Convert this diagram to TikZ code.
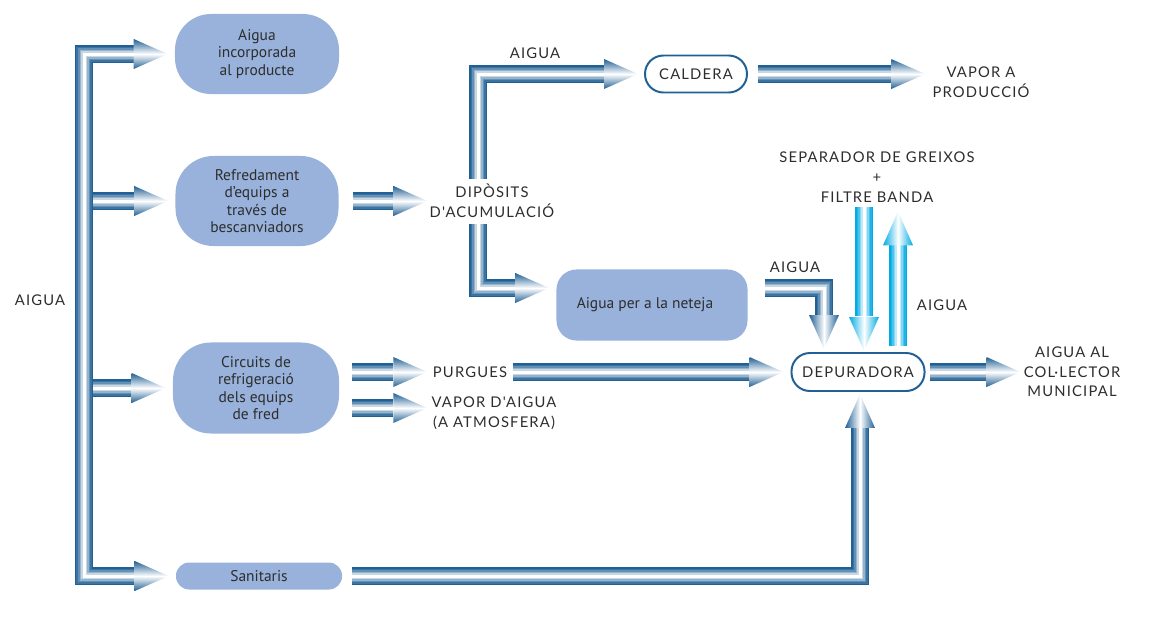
\documentclass[tikz,border=0pt]{standalone}
\usepackage{fontspec}
\setmainfont{PT Sans}
\newfontfamily\capsfont[LetterSpace=8]{Lato}
\usepackage{tikz}
\usetikzlibrary{positioning, calc}
\definecolor{PipeColor}{RGB}{32,96,148}
\definecolor{CyanColor}{RGB}{0,170,228}
\definecolor{BoxColor}{RGB}{152,178,220}
\definecolor{TextColor}{RGB}{45,45,45}
\newcommand{\headR}[2][PipeColor]{\shade[top color=#1, bottom color=#1, middle color=white] #2 ++(-34,-15) -- #2 -- ++(-34,15) -- cycle;}
\newcommand{\headD}[2][PipeColor]{\shade[left color=#1, right color=#1, middle color=white] #2 ++(-15,-34) -- #2 -- ++(15,-34) -- cycle;}
\newcommand{\headU}[2][PipeColor]{\shade[left color=#1, right color=#1, middle color=white] #2 ++(-15,34) -- #2 -- ++(15,34) -- cycle;}

\begin{document}
\begin{tikzpicture}[x=0.025cm, y=-0.025cm,
        box/.style={fill=BoxColor, rounded corners=#1, align=center, text=TextColor, inner sep=0pt, font=\fontsize{11}{12.5}\selectfont},
        unit/.style={draw=PipeColor, line width=1.4pt, fill=white, rounded corners=0.46cm, text=TextColor, inner sep=0pt, font=\capsfont\fontsize{10.5}{14}\selectfont},
        lab/.style={align=center, text=TextColor, inner sep=0pt, font=\capsfont\fontsize{10.5}{14}\selectfont},
        pipe/.style={draw=#1, line width=0.45cm,
            postaction={draw=#1!88!white, line width=0.375cm},
            postaction={draw=#1!70!white, line width=0.3cm},
            postaction={draw=#1!48!white, line width=0.225cm},
            postaction={draw=#1!25!white, line width=0.15cm},
            postaction={draw=white, line width=0.075cm}},
        pipe/.default=PipeColor,
        cpipe/.style={pipe=CyanColor}
    ]
        \useasboundingbox (0,0) rectangle (1154,619);

        \node[box=0.9cm, minimum width=4.1cm, minimum height=2cm] (inc) at (257,54) {Aigua\\incorporada\\al producte};
        \node[box=0.95cm, minimum width=4.075cm, minimum height=2.25cm] (refr) at (257,201) {Refredament\\d'equips a\\través de\\bescanviadors};
        \node[box=0.95cm, minimum width=4.15cm, minimum height=2.275cm] (circ) at (256,388) {Circuits de\\refrigeració\\dels equips\\de fred};
        \node[box=0.33cm, minimum width=4.15cm, minimum height=0.675cm] (sani) at (259,576) {Sanitaris};
        \node[box=0.5cm, minimum width=4.775cm, minimum height=1.775cm] (net) at (652,305) {\hspace{-10pt}Aigua per a la neteja};

        \node[unit, minimum width=2.55cm, minimum height=0.925cm] (cald) at (696,74) {CALDERA};
        \node[unit, minimum width=3.325cm, minimum height=0.95cm] (depu) at (858,372) {DEPURADORA};

        \node[lab] (aiguaL) at (40,300) {AIGUA};
        \node[lab] (dipo) at (492,201) {DIPÒSITS\\D'ACUMULACIÓ};
        \node[lab] (aiguaT) at (535,53) {AIGUA};
        \node[lab] (vapor) at (981,82) {VAPOR A\\PRODUCCIÓ};
        \node[lab] (sep) at (877,177) {SEPARADOR DE GREIXOS\\+\\FILTRE BANDA};
        \node[lab] (aiguaN) at (795,267) {AIGUA};
        \node[lab] (aiguaR) at (942,305) {AIGUA};
        \node[lab] (coll) at (1072,372) {AIGUA AL\\COL·LECTOR\\MUNICIPAL};
        \node[lab] (purg) at (470,372) {PURGUES};
        \node[lab] (vatm) at (494,413) {VAPOR D'AIGUA\\(A ATMOSFERA)};

        % supply trunk
        \coordinate (tapR) at (84,201);
        \coordinate (tapC) at (84,388);
        \draw[pipe] (tapR) -- ($(refr.west)+(-41,0)$);
        \draw[pipe] (tapC) -- ($(circ.west)+(-41,0)$);
        \draw[pipe] ($(inc.west)+(-41,0)$) -| (84,576) -- ($(sani.west)+(-41,0)$);
        \headR{($(inc.west)+(-7,0)$)}
        \headR{($(refr.west)+(-7,0)$)}
        \headR{($(circ.west)+(-7,0)$)}
        \headR{($(sani.west)+(-7,0)$)}

        % tanks
        \draw[pipe] ($(refr.east)+(14,0)$) -- ($(dipo.west)+(-36,0)$);
        \headR{($(dipo.west)+(-2,0)$)}
        \draw[pipe] ($(dipo.north)+(-14,-5)$) |- ($(cald.west)+(-40,0)$);
        \headR{($(cald.west)+(-6,0)$)}
        \draw[pipe] ($(dipo.south)+(-14,6)$) |- ($(net.west)+(-41,-17)$);
        \headR{($(net.west)+(-7,-17)$)}
        \draw[pipe] ($(cald.east)+(10,0)$) -- ($(vapor.west)+(-41,-8)$);
        \headR{($(vapor.west)+(-7,-8)$)}

        % cooling circuits
        \draw[pipe] ($(circ.east)+(13,-16)$) -- ($(circ.east)+(54,-16)$);
        \headR{($(circ.east)+(88,-16)$)}
        \draw[pipe] ($(circ.east)+(13,20)$) -- ($(circ.east)+(54,20)$);
        \headR{($(circ.east)+(88,20)$)}

        % treatment
        \draw[pipe] ($(purg.east)+(6,0)$) -- ($(depu.west)+(-41,0)$);
        \headR{($(depu.west)+(-7,0)$)}
        \draw[pipe] ($(net.east)+(17,-17)$) -| ($(depu.north)+(-34,-36)$);
        \headD{($(depu.north)+(-34,-3)$)}
        \draw[cpipe] ($(sep.south)+(-13,5)$) -- ($(depu.north)+(6,-36)$);
        \headD[CyanColor]{($(depu.north)+(6,-1)$)}
        \draw[cpipe] ($(depu.north)+(40,-6)$) -- ($(sep.south)+(21,43)$);
        \headU[CyanColor]{($(sep.south)+(21,9)$)}
        \draw[pipe] ($(sani.east)+(10,0)$) -| ($(depu.south)+(2,36)$);
        \headU{($(depu.south)+(2,2)$)}
        \draw[pipe] ($(depu.east)+(4,0)$) -- ($(coll.west)+(-37,0)$);
        \headR{($(coll.west)+(-3,0)$)}
    \end{tikzpicture}
\end{document}
